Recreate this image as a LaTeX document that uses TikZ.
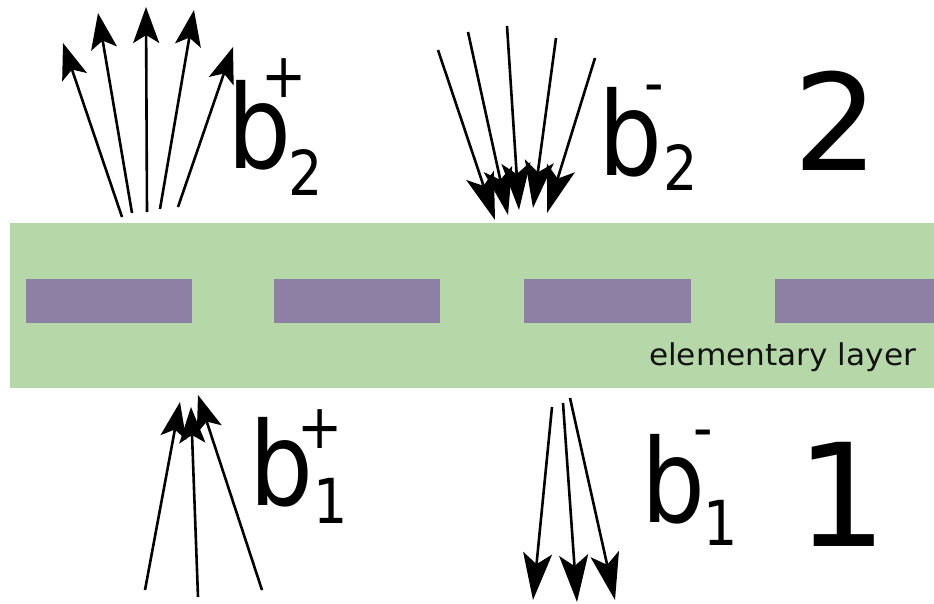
\documentclass[tikz,border=0pt]{standalone}
\usepackage{fontspec}
\setmainfont{DejaVu Sans}
\usetikzlibrary{arrows.meta}
\definecolor{bandgreen}{HTML}{B6D8A8}
\definecolor{cellpurple}{HTML}{8E80A4}
\newcommand{\cond}[1]{\scalebox{0.87}[1]{#1}}
% b with superscript and subscript: kern to sup, raise, sup, kern to sub, lower, sub
\newcommand{\bsym}[6]{\cond{b}\kern#1pt\rlap{\raisebox{#2pt}{\fontsize{62}{62}\selectfont\cond{#3}}}\kern#4pt\raisebox{-#5pt}{\fontsize{62}{62}\selectfont\cond{#6}}}
\tikzset{
  rayup/.style={line width=2.6pt, -{Stealth[length=36pt,width=26pt,inset=8pt]}},
  raydown/.style={line width=2.6pt, -{Stealth[length=47pt,width=29pt,inset=11pt]}},
  glyph/.style={inner sep=0pt, outer sep=0pt, anchor=base west},
  bigb/.style={glyph, font=\fontsize{116}{116}\selectfont},
  region/.style={glyph, font=\fontsize{#1}{#1}\selectfont},
  cell/.style={fill=cellpurple, draw=none},
}
\begin{document}
\begin{tikzpicture}[x=1pt,y=-1pt]
\useasboundingbox (0,0) rectangle (934,603);
% band
\fill[bandgreen] (10,223) rectangle (934,388);
\fill[cell] (26,279) rectangle (192,323);
\fill[cell] (274,279) rectangle (440,323);
\fill[cell] (524,279) rectangle (691,323);
\fill[cell] (775,279) rectangle (934,323);
\node[glyph, text=black!93, font=\fontsize{30}{30}\selectfont] (layer) at (649,365) {\scalebox{1.04}[1]{elementary layer}};

% top-left rays (b2+)
\coordinate (ta1) at (122,217); \coordinate (ha1) at (63,43);
\coordinate (ta2) at (132,213); \coordinate (ha2) at (98,13);
\coordinate (ta3) at (147,212); \coordinate (ha3) at (146,7);
\coordinate (ta4) at (160,209); \coordinate (ha4) at (194,10);
\coordinate (ta5) at (178,207); \coordinate (ha5) at (233,47);
\foreach \i in {1,...,5} \draw[rayup] (ta\i) -- (ha\i);

% top-middle rays (b2-)
\coordinate (tb1) at (438,50); \coordinate (hb1) at (495,220);
\coordinate (tb2) at (468,32); \coordinate (hb2) at (508,215);
\coordinate (tb3) at (507,26); \coordinate (hb3) at (519,210);
\coordinate (tb4) at (556,38); \coordinate (hb4) at (533,208);
\coordinate (tb5) at (595,58); \coordinate (hb5) at (547,213);
\foreach \i in {1,...,5} \draw[raydown] (tb\i) -- (hb\i);

% bottom-left rays (b1+)
\coordinate (tc1) at (145,590); \coordinate (hc1) at (180,402);
\coordinate (tc2) at (198,597); \coordinate (hc2) at (191,407);
\coordinate (tc3) at (262,590); \coordinate (hc3) at (198,395);
\foreach \i in {1,...,3} \draw[rayup] (tc\i) -- (hc\i);

% bottom-middle rays (b1-)
\coordinate (td1) at (552,407); \coordinate (hd1) at (533,600);
\coordinate (td2) at (563,403); \coordinate (hd2) at (577,602);
\coordinate (td3) at (570,398); \coordinate (hd3) at (615,600);
\foreach \i in {1,...,3} \draw[raydown] (td\i) -- (hd\i);

% labels
\node[bigb] (b2p) at (227,168) {\bsym{-29.1}{71}{+}{27}{27}{2}};
\node[bigb] (b2m) at (598,175) {\bsym{-17.1}{71}{-}{19}{15}{2}};
\node[bigb] (b1p) at (249,505) {\bsym{-15.1}{57}{+}{16}{18}{1}};
\node[bigb] (b1m) at (641,522) {\bsym{-11.1}{73}{-}{10}{23}{1}};

\node[region=134] (two) at (793,170) {2};
\node[region=143] (one) at (796,546) {1};
\end{tikzpicture}
\end{document}
